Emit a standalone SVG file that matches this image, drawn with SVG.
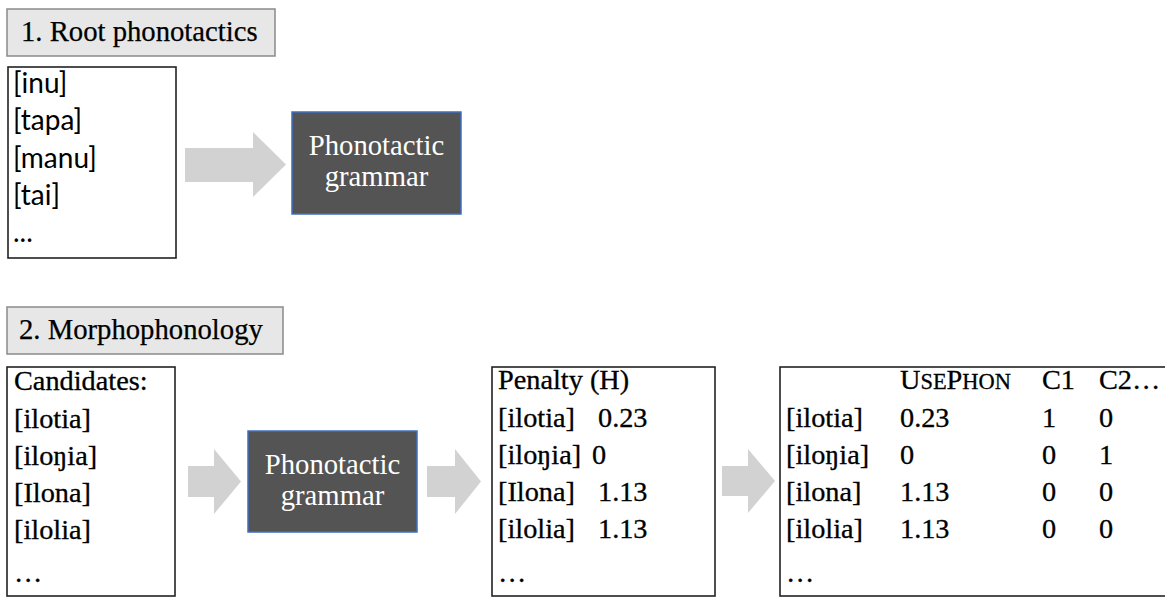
<svg xmlns="http://www.w3.org/2000/svg" width="1165" height="598" viewBox="0 0 1165 598">
<style>
.title{fill:#e7e7e7;stroke:#8a8a8a;stroke-width:1.5}
.box{fill:#fff;stroke:#222;stroke-width:1.6}
.gram{fill:#545454;stroke:#3f6fbf;stroke-width:1.5}
.arrow{fill:#d2d2d2}
.serif{font-family:"Liberation Serif","Times New Roman",serif;font-size:28.3px;fill:#000;stroke:#000;stroke-width:0.3}
.ttl{font-family:"Liberation Serif","Times New Roman",serif;font-size:28.7px;fill:#000;stroke:#000;stroke-width:0.25}
.sans{font-family:Lato,"Open Sans",sans-serif;font-size:28px;fill:#000}
.gtext{font-family:"Liberation Serif","Times New Roman",serif;font-size:28.7px;fill:#fff;text-anchor:middle}
.sc{font-size:22.4px}
</style>
<g id="title1">
<rect class="title" x="7" y="9" width="268" height="47"/>
<text class="ttl" x="21" y="41">1. Root phonotactics</text>
</g>
<g id="roots">
<rect class="box" x="8" y="67" width="168" height="191"/>
<text class="sans" x="13" y="93">[inu]</text>
<text class="sans" x="13" y="130">[tapa]</text>
<text class="sans" x="13" y="167.5">[manu]</text>
<text class="sans" x="13" y="205">[tai]</text>
<text class="sans" x="13" y="242">...</text>
</g>
<g id="grammar1">
<rect class="gram" x="292" y="112" width="169" height="102"/>
<text class="gtext" x="376.5" y="155">Phonotactic</text>
<text class="gtext" x="376.5" y="186">grammar</text>
</g>
<g id="title2">
<rect class="title" x="7" y="307" width="276" height="47"/>
<text class="ttl" x="19" y="339">2. Morphophonology</text>
</g>
<g id="candidates">
<rect class="box" x="7" y="367" width="168" height="229"/>
<text class="serif" x="14" y="390">Candidates:</text>
<text class="serif" x="14" y="428">[ilotia]</text>
<text class="serif" x="14" y="465">[iloŋia]</text>
<text class="serif" x="14" y="502">[Ilona]</text>
<text class="serif" x="14" y="539">[ilolia]</text>
<text class="serif" x="14" y="582">…</text>
</g>
<g id="grammar2">
<rect class="gram" x="248" y="431" width="169" height="101"/>
<text class="gtext" x="332.5" y="474">Phonotactic</text>
<text class="gtext" x="332.5" y="505">grammar</text>
</g>
<g id="penalty">
<rect class="box" x="492" y="367" width="223" height="229"/>
<text class="serif" x="498" y="389">Penalty (H)</text>
<text class="serif" x="498" y="427">[ilotia]</text>
<text class="serif" x="598" y="427">0.23</text>
<text class="serif" x="498" y="464">[iloŋia]</text>
<text class="serif" x="592" y="464">0</text>
<text class="serif" x="498" y="501">[Ilona]</text>
<text class="serif" x="598" y="501">1.13</text>
<text class="serif" x="498" y="538">[ilolia]</text>
<text class="serif" x="598" y="538">1.13</text>
<text class="serif" x="498" y="582">…</text>
</g>
<g id="table">
<rect class="box" x="780" y="367" width="392" height="229"/>
<text class="serif" x="900" y="389">U<tspan class="sc">SE</tspan>P<tspan class="sc">HON</tspan></text>
<text class="serif" x="1042" y="389">C1</text>
<text class="serif" x="1099" y="389">C2…</text>
<text class="serif" x="786" y="427">[ilotia]</text>
<text class="serif" x="900" y="427">0.23</text>
<text class="serif" x="1042" y="427">1</text>
<text class="serif" x="1099" y="427">0</text>
<text class="serif" x="786" y="464">[iloŋia]</text>
<text class="serif" x="900" y="464">0</text>
<text class="serif" x="1042" y="464">0</text>
<text class="serif" x="1099" y="464">1</text>
<text class="serif" x="786" y="501">[ilona]</text>
<text class="serif" x="900" y="501">1.13</text>
<text class="serif" x="1042" y="501">0</text>
<text class="serif" x="1099" y="501">0</text>
<text class="serif" x="786" y="538">[ilolia]</text>
<text class="serif" x="900" y="538">1.13</text>
<text class="serif" x="1042" y="538">0</text>
<text class="serif" x="1099" y="538">0</text>
<text class="serif" x="786" y="582">…</text>
</g>
<g id="connectors">
<polygon class="arrow" points="185,148 253,148 253,132 286,164.5 253,197 253,182 185,182"/>
<polygon class="arrow" points="188,466 214,466 214,449 241,481.5 214,514 214,497 188,497"/>
<polygon class="arrow" points="427,466 455,466 455,449 481,481.5 455,514 455,497 427,497"/>
<polygon class="arrow" points="722,466 748,466 748,449 775,481 748,513 748,496 722,496"/>
</g>
</svg>
